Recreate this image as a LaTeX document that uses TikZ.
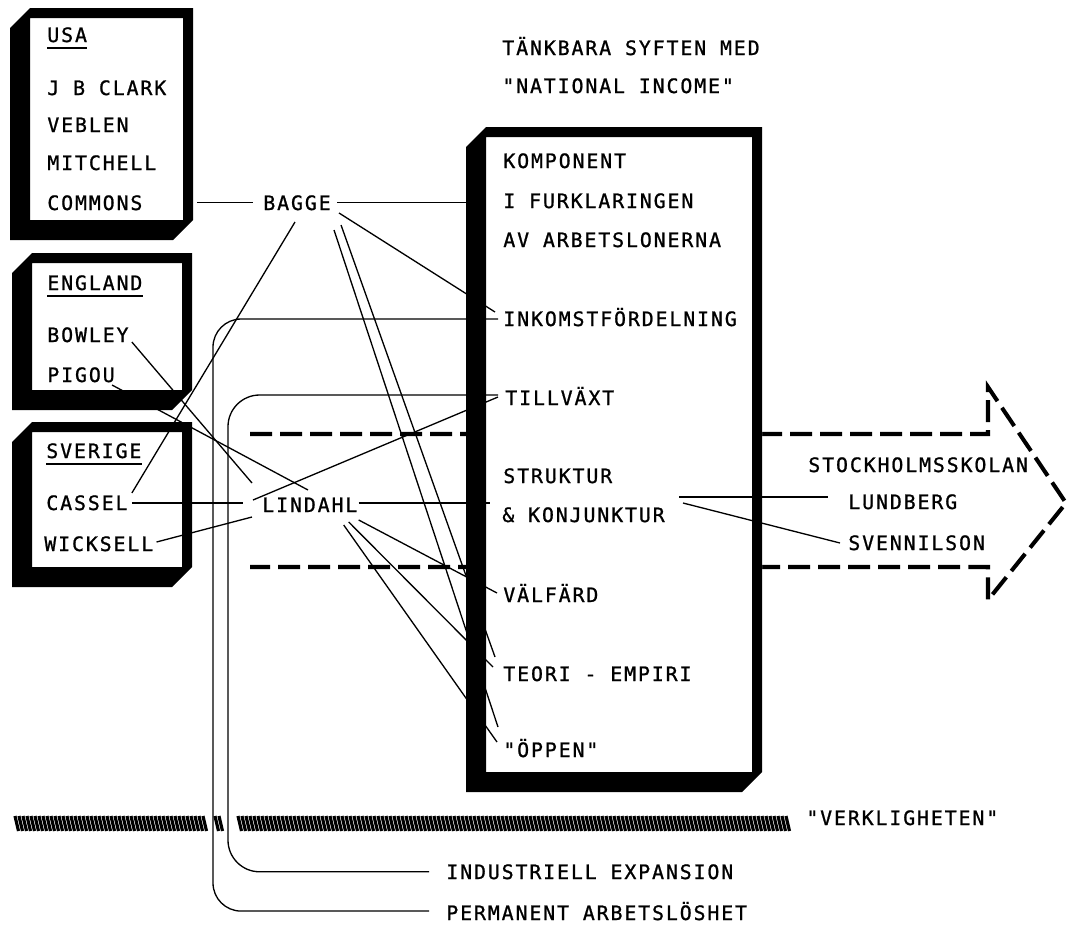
\documentclass[tikz,border=0pt]{standalone}
\usepackage{fontspec}
\usepackage{tikz}
\usetikzlibrary{calc}
\newfontfamily\plotFont[LetterSpace=9.5, FakeBold=1]{DejaVu Sans Mono}
\newcommand\frameThick{20}
\newcommand\frameThin{10}
\newcommand\frameBevel{20}
\newcommand{\outerFramePath}[4]{
    (#1,#2+\frameBevel) -- (#1+\frameBevel,#2) -- (#3,#2) -- (#3,#4-\frameBevel) -- (#3-\frameBevel,#4) -- (#1,#4) -- cycle
}
\newcommand{\shadowFramePath}[4]{
    \outerFramePath{#1}{#2}{#3}{#4}
    (#1+\frameThick,#2+\frameThin) rectangle (#3-\frameThin,#4-\frameThick)
}
\tikzset{
    label text/.style={font={\plotFont\fontsize{11.3pt}{13pt}\selectfont}, inner sep=0pt, anchor=base west},
    link/.style={line width=0.75pt},
    school arrow/.style={line width=2.3pt, dash pattern=on 4.4mm off 1.6mm, line join=miter},
    ground/.style={line width=1.8pt}
}

\begin{document}
\begin{tikzpicture}[x=0.2mm, y=-0.2mm]
    \useasboundingbox (0,0) rectangle (1069,933);

    \draw[school arrow] (250,434) -- (988,434) -- (988,387) -- (1066,503) -- (988,600) -- (988,567) -- (250,567);
    \fill[white] \outerFramePath{466}{127}{762}{792};

    \coordinate (usaEdge) at (197,0);
    \coordinate (kompEdge) at (466,0);
    \coordinate (lossX) at (213,600);
    \coordinate (growthX) at (228,600);

    % countries
    \node[label text] (usa) at (47,42) {USA};
    \node[label text] (clark) at (47,95) {J B CLARK};
    \node[label text] (veblen) at (47,132) {VEBLEN};
    \node[label text] (mitchell) at (47,170) {MITCHELL};
    \node[label text] (commons) at (47,210) {COMMONS};
    \node[label text] (england) at (47,290) {ENGLAND};
    \node[label text] (bowley) at (47,342) {BOWLEY};
    \node[label text] (pigou) at (47,382) {PIGOU};
    \node[label text] (sverige) at (46,458) {SVERIGE};
    \node[label text] (cassel) at (46,510) {CASSEL};
    \node[label text] (wicksell) at (44,551) {WICKSELL};

    \node[label text] (bagge) at (263,210) {BAGGE};
    \node[label text] (lindahl) at (262,512) {LINDAHL};

    % purposes
    \node[label text] (title1) at (502,55) {TÄNKBARA SYFTEN MED};
    \node[label text] (title2) at (502,93) {"NATIONAL INCOME"};
    \node[label text] (komp1) at (503,168) {KOMPONENT};
    \node[label text] (komp2) at (503,208) {I FURKLARINGEN};
    \node[label text] (komp3) at (503,247) {AV ARBETSLONERNA};
    \node[label text] (inkomst) at (503,326) {INKOMSTFÖRDELNING};
    \node[label text] (tillvaxt) at (505,405) {TILLVÄXT};
    \node[label text] (struktur) at (503,483) {STRUKTUR};
    \node[label text] (konj) at (502,522) {\& KONJUNKTUR};
    \node[label text] (valfard) at (503,602) {VÄLFÄRD};
    \node[label text] (teori) at (503,681) {TEORI - EMPIRI};
    \node[label text] (oppen) at (503,757) {"ÖPPEN"};

    \node[label text] (skolan) at (808,472) {STOCKHOLMSSKOLAN};
    \node[label text] (lundberg) at (848,509) {LUNDBERG};
    \node[label text] (svennilson) at (848,550) {SVENNILSON};

    \node[label text] (verklighet) at (806,825) {"VERKLIGHETEN"};
    \node[label text] (industriell) at (446,879) {INDUSTRIELL EXPANSION};
    \node[label text] (permanent) at (446,920) {PERMANENT ARBETSLÖSHET};

    % links
    \draw[link] (usaEdge |- bagge.west) -- ($(bagge.west)+(-10,0)$);
    \draw[link] ($(bagge.east)+(6,0)$) -- (kompEdge |- bagge.east);
    \draw[link] ($(bagge.base east)+(8,3)$) -- ($(inkomst.base west)+(-8,-14)$);
    \draw[link] ($(bagge.base east)+(10,15)$) -- ($(teori.base west)+(-8,-24)$);
    \draw[link] ($(bagge.base east)+(3,20)$) -- ($(oppen.base west)+(-5,-30)$);
    \draw[link] ($(bagge.base west)+(32,12)$) -- ($(cassel.base east)+(4,-17)$);

    \draw[link] ($(bowley.base east)+(3,0)$) -- ($(lindahl.base west)+(-10,-29)$);
    \draw[link] ($(pigou.base east)+(-3,3)$) -- ($(lindahl.base west)+(46,-22)$);
    \draw[link] ($(cassel.base east)+(4,-7)$) -- ($(lindahl.base west)+(-19,-9)$);
    \draw[link] ($(wicksell.base east)+(3,-9)$) -- ($(lindahl.base west)+(-10,5)$);
    \draw[link] ($(lindahl.base west)+(-9,-12)$) -- ($(tillvaxt.base west)+(-7,-8)$);
    \draw[link] ($(lindahl.base east)+(1,-9)$) -- ($(konj.base west)+(-12,-19)$);
    \draw[link] ($(lindahl.base east)+(1,8)$) -- ($(valfard.base west)+(-6,-9)$);
    \draw[link] ($(lindahl.base east)+(-9,10)$) -- ($(teori.base west)+(-10,-14)$);
    \draw[link] ($(lindahl.base east)+(-14,13)$) -- ($(oppen.base west)+(-6,-15)$);

    \draw[link] ($(konj.base east)+(14,-25)$) -- ($(lundberg.base west)+(-20,-12)$);
    \draw[link] ($(konj.base east)+(18,-19)$) -- ($(svennilson.base west)+(-8,-7)$);

    \draw[link, rounded corners=16] ($(inkomst.base west)+(-5,-7)$) -| (lossX) |- ($(permanent.west)+(-17,0)$);
    \draw[link, rounded corners=18] ($(tillvaxt.base west)+(-7,-10)$) -| (growthX) |- ($(industriell.west)+(-17,0)$);

    % frames
    \fill[even odd rule] \shadowFramePath{10}{8}{193}{240};
    \fill[even odd rule] \shadowFramePath{12}{253}{192}{410};
    \fill[even odd rule] \shadowFramePath{12}{422}{192}{587};
    \fill[even odd rule] \shadowFramePath{466}{127}{762}{792};

    \foreach \country in {usa, england, sverige}
        \draw[line width=1.3pt] ($(\country.base west)+(0,6)$) -- ($(\country.base east)+(0,6)$);

    % ground
    \foreach \x in {15,19,...,203}
        \draw[ground] (\x,816) -- (\x+3.5,831);
    \foreach \x in {215,219}
        \draw[ground] (\x,816) -- (\x+3.5,831);
    \foreach \x in {238,242,...,787}
        \draw[ground] (\x,816) -- (\x+3.5,831);
\end{tikzpicture}
\end{document}
